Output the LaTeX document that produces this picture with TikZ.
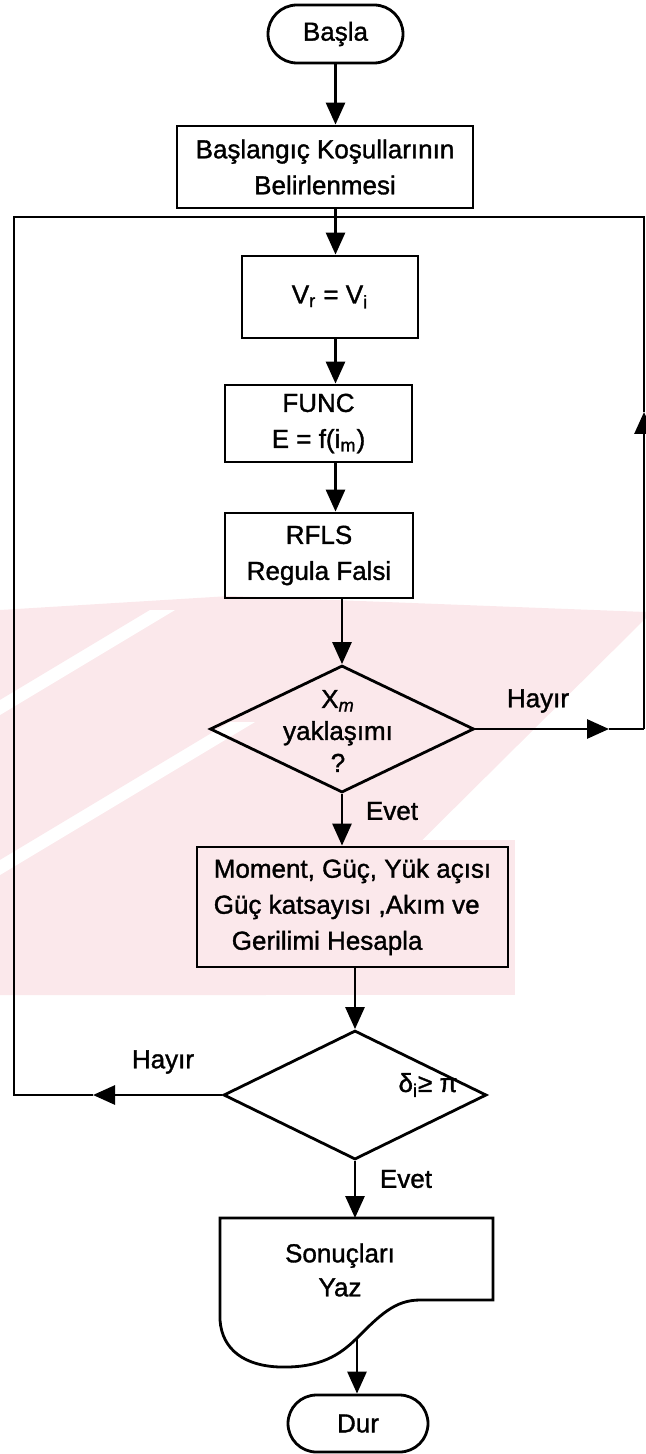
\documentclass[tikz,border=0pt]{standalone}
\usepackage{fontspec}
\setmainfont[FakeBold=1.3]{Liberation Sans}
\usetikzlibrary{shapes.geometric,shapes.misc,arrows.meta}
\definecolor{wmpink}{RGB}{251,232,235}
\begin{document}
\begin{tikzpicture}[x=0.5pt,y=-0.5pt,
  every node/.style={font=\fontsize{13}{18}\selectfont},
  box/.style={draw, line width=1.4pt, rectangle, inner sep=0pt, align=center},
  term/.style={draw, line width=1.4pt, rounded rectangle, inner sep=0pt},
  dia/.style={draw, line width=1.4pt, diamond, inner sep=0pt},
  lnk/.style={line width=1.4pt},
  arr/.style={line width=1.4pt, -{Triangle[length=11pt,width=9.5pt]}},
  lbl/.style={inner sep=0pt},
  wm/.style={fill=wmpink, draw=none}]
\useasboundingbox (0,0) rectangle (646,1454);
% faint watermark
\fill[wm] (0,610) -- (230,596) -- (646,612) -- (646,618) -- (266,995) -- (0,995) -- cycle;
\fill[wm] (180,840) -- (515,840) -- (515,995) -- (180,995) -- cycle;
\fill[white] (0,700) -- (150,610) -- (175,610) -- (0,715) -- cycle;
\fill[white] (0,860) -- (230,722) -- (255,722) -- (0,875) -- cycle;
% nodes
\node[term, minimum width=67.5pt, minimum height=29pt] (start) at (335.5,34) {Başla};
\node[box, minimum width=148pt, minimum height=41pt] (b1) at (325,167) {Başlangıç Koşullarının\\Belirlenmesi};
\node[box, minimum width=88pt, minimum height=41pt] (v) at (330,297) {V\textsubscript{r} = V\textsubscript{i}};
\node[box, minimum width=93.5pt, minimum height=38.5pt] (func) at (318.5,423.5) {FUNC\\E = f(i\textsubscript{m})};
\node[box, minimum width=94pt, minimum height=42.5pt] (rfls) at (319,555.5) {RFLS\\Regula Falsi};
\node[dia, minimum width=132pt, minimum height=63.5pt] (d1) at (342,729) {};
\node[lbl, align=center, font=\fontsize{13}{16}\selectfont] (d1t) at (338,731) {X\textsubscript{\textit{m}}\\yaklaşımı\\?};
\node[lbl] (h1) at (538,701) {Hayır};
\node[lbl] (e1) at (392,811) {Evet};
\node[box, align=left, minimum width=155.5pt, minimum height=60pt] (mom) at (352.5,907) {Moment, Güç, Yük açısı\\Güç katsayısı ,Akım ve\\\hspace*{9pt}Gerilimi Hesapla};
\node[dia, minimum width=131.5pt, minimum height=64.5pt] (d2) at (355,1095) {};
\node[lbl] (d2t) at (428,1085) {δ\textsubscript{i}≥ π};
\node[lbl] (h2) at (163,1062) {Hayır};
\node[lbl] (e2) at (406,1179) {Evet};
\draw[lnk] (220,1218) -- (493,1218) -- (493,1300) -- (420,1300)
  .. controls (395,1300) and (380,1315) .. (357,1338)
  .. controls (340,1355) and (320,1368) .. (280,1367)
  .. controls (245,1366) and (222,1350) .. (220,1320) -- cycle;
\node[lbl, align=center, font=\fontsize{13}{17}\selectfont] (sonuc) at (340,1270) {Sonuçları\\Yaz};
\node[term, minimum width=70pt, minimum height=28.5pt] (dur) at (358,1423.5) {Dur};
% coordinates
\coordinate (sTop) at (355,1218);
\coordinate (sBot) at (357,1338);
\coordinate (jn) at (335,217);
\coordinate (rA) at (609,729);
\coordinate (rB) at (644,729);
\coordinate (rU) at (644,412);
\coordinate (rC) at (644,217);
\coordinate (lA) at (93,1095);
\coordinate (lB) at (14,1095);
\coordinate (lC) at (14,217);
% connectors
\draw[arr] (start.south) -- (start.south |- b1.north);
\draw[arr] (b1.south -| start.south) -- (v.north -| start.south);
\draw[arr] (v.south -| start.south) -- (func.north -| start.south);
\draw[arr] (func.south -| start.south) -- (rfls.north -| start.south);
\draw[arr] (rfls.south -| d1.north) -- (d1.north);
\draw[arr] (d1.south) -- (d1.south |- mom.north);
\draw[arr] (mom.south -| d2.north) -- (d2.north);
\draw[arr] (d2.south) -- (sTop);
\draw[arr] (sBot) -- (sBot |- dur.north);
\draw[arr] (d1.east) -- (rA);
\draw[lnk] (rA) -- (rB);
\draw[arr] (rB) -- (rU);
\draw[lnk] (rU) -- (rC) -- (jn);
\draw[arr] (d2.west) -- (lA);
\draw[lnk] (lA) -- (lB) -- (lC) -- (jn);
\end{tikzpicture}
\end{document}
